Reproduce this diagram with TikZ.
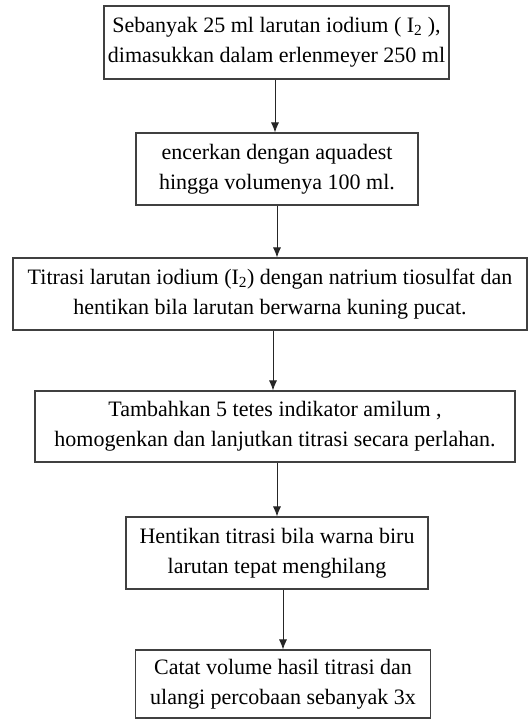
\documentclass[tikz,border=0pt]{standalone}
\usepackage{fontspec}
\setmainfont{Liberation Serif}
\usetikzlibrary{arrows.meta}

\begin{document}
\begin{tikzpicture}[x=1pt,y=-1pt,
    stepbox/.style={draw=black!75, line width=1.1pt, align=center,
        inner sep=0pt, font=\fontsize{22}{30}\selectfont},
    flow/.style={-{Latex[length=10pt,width=8pt]}, line width=0.9pt, draw=black!85}]

\useasboundingbox (0,0) rectangle (528,720);

\node[stepbox,
    minimum width=345pt,minimum height=73pt] at (276.5,42.5) (step1) {Sebanyak 25 ml larutan iodium ( I\textsubscript{2} ),\\dimasukkan dalam erlenmeyer 250 ml};

\node[stepbox,
    minimum width=282pt,minimum height=72pt] at (277,169) (step2) {encerkan dengan aquadest\\hingga volumenya 100 ml.};

\node[stepbox,
    minimum width=514pt,minimum height=72pt] at (270,294) (step3) {Titrasi larutan iodium (I\textsubscript{2}) dengan natrium tiosulfat dan\\hentikan bila larutan berwarna kuning pucat.};

\node[stepbox,
    minimum width=480pt,minimum height=71pt] at (275,426.5) (step4) {Tambahkan 5 tetes indikator amilum ,\\homogenkan dan lanjutkan titrasi secara perlahan.};

\node[stepbox,
    minimum width=302pt,minimum height=72pt] at (277,553) (step5) {Hentikan titrasi bila warna biru\\larutan tepat menghilang};

\node[stepbox,
    minimum width=295pt,minimum height=68pt] at (283,684) (step6) {Catat volume hasil titrasi dan\\ulangi percobaan sebanyak 3x};

\draw[flow] (step1.south -| 275,0) -- (step2.north -| 275,0);
\draw[flow] (step2.south -| 277,0) -- (step3.north -| 277,0);
\draw[flow] (step3.south -| 273,0) -- (step4.north -| 273,0);
\draw[flow] (step4.south -| 277,0) -- (step5.north -| 277,0);
\draw[flow] (step5.south -| 283,0) -- (step6.north -| 283,0);

\end{tikzpicture}
\end{document}
